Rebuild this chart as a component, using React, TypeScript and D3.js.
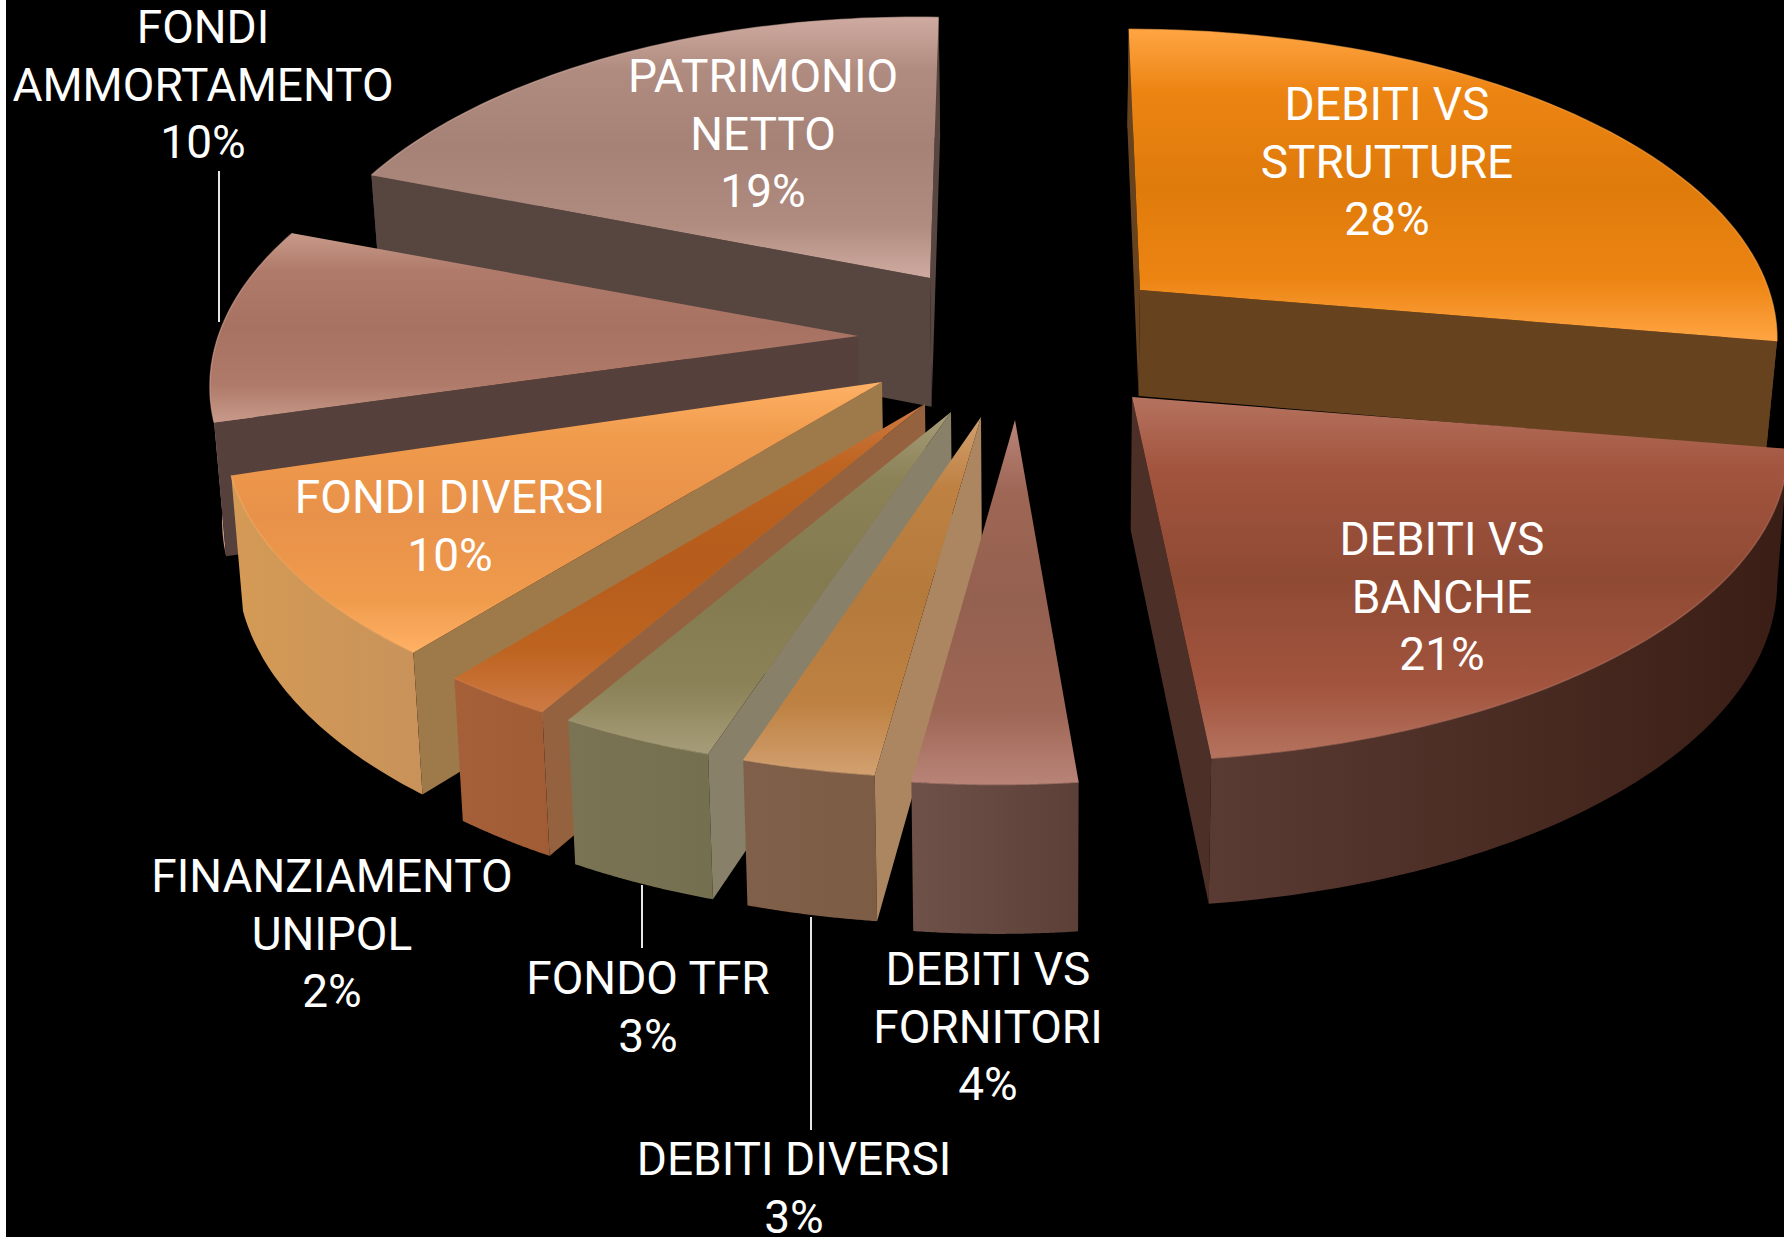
import React from "react";
import * as d3 from "d3";

const categories = ["DEBITI VS STRUTTURE", "DEBITI VS BANCHE", "DEBITI VS FORNITORI", "DEBITI DIVERSI", "FONDO TFR", "FINANZIAMENTO UNIPOL", "FONDI DIVERSI", "FONDI AMMORTAMENTO", "PATRIMONIO NETTO"];
const shares = [28, 21, 4, 3, 3, 2, 10, 10, 19];

// layout of the exploded, warped picture: one apex per slice (screen px), same order as categories
const apexX = [1140, 1132, 1015, 981, 951, 925, 882, 858, 930];
const apexY = [290, 397, 420, 417, 412, 404, 382, 336, 278];
const sliceScaleX = [1, 1.03, 1, 1, 1, 1, 0.98, 0.967, 0.955];
const sliceScaleY = [1, 1.01, 1.01, 1, 1, 1, 1, 1, 1];
const startTrimDeg = [0, 0, 0, -1.7, -2, -1, 1.2, 0, 0];
const endTrimDeg = [0, -1, -1.9, -2.4, -1, 0.4, -1.2, 0, 2.1];
const wallScale = [0.82, 1, 1.02, 1, 1, 1, 1, 1, 1];
// back to front
const paintOrder = [8, 0, 7, 6, 5, 4, 3, 2, 1];

const topLight = ["#FFA543", "#B5735F", "#B98478", "#D2A070", "#A69C78", "#CD7A45", "#FFB165", "#C89A8A", "#CFAAA0"];
const topBase = ["#EC8412", "#A2543E", "#9E6655", "#BE8142", "#8C8258", "#BE6420", "#F09B4C", "#AF7A69", "#B08C80"];
const topDark = ["#DF7B0B", "#8F4A34", "#94604F", "#B47A3C", "#847A50", "#B65C1C", "#E8914A", "#A87262", "#A68276"];
const wallLeft = ["#66421F", "#5A3B33", "#6E5148", "#80604A", "#7A7354", "#A5603A", "#D49A55", "#C49585", "#574640"];
const wallRight = ["#66421F", "#3A1D14", "#5C4038", "#7C5C44", "#74704F", "#A05C34", "#C8925A", "#C49585", "#574640"];
const radialFill = ["#66421F", "#4C3028", "#5C4038", "#AB8660", "#888068", "#95623F", "#9E794A", "#55403C", "#574640"];

const labelLines = [
  ["DEBITI VS", "STRUTTURE", "28%"],
  ["DEBITI VS", "BANCHE", "21%"],
  ["DEBITI VS", "FORNITORI", "4%"],
  ["DEBITI DIVERSI", "3%"],
  ["FONDO TFR", "3%"],
  ["FINANZIAMENTO", "UNIPOL", "2%"],
  ["FONDI DIVERSI", "10%"],
  ["FONDI", "AMMORTAMENTO", "10%"],
  ["PATRIMONIO", "NETTO", "19%"],
];
const labelCx = [1387, 1442, 988, 794, 648, 332, 450, 203, 763];
const labelFirstBaseline = [120, 555, 985, 1175, 994, 892, 513, 43, 92];

const leaderX = [219, 642, 811];
const leaderY1 = [171, 885, 917];
const leaderY2 = [322, 948, 1130];

const W = 1784, H = 1237;
const ROT = (-10 * Math.PI) / 180;
const E = [637, 47];
const S = [-99, 299];
const K = 0.163;
const LINE = 57.7;
const rad = (d: number) => (d * Math.PI) / 180;

type Pt = [number, number];

function project(theta: number, sx: number, sy: number): Pt {
  const u = Math.sin(theta), v = -Math.cos(theta), w = 1 - K * v;
  return [(sx * (E[0] * u + S[0] * v)) / w, (sy * (E[1] * u + S[1] * v)) / w];
}
const drop = (p: Pt, ws: number): Pt => [p[0] + (1040 - p[0]) * 0.0145, p[1] + ws * (119 + 0.035 * p[1])];
const cross = (a: Pt, b: Pt, d: Pt) => (b[0] - a[0]) * (d[1] - a[1]) - (b[1] - a[1]) * (d[0] - a[0]);

const closed = d3.line<Pt>().curve(d3.curveLinearClosed);
const open = d3.line<Pt>();

export default function App() {
  const arcs = d3.pie<number>().sort(null).startAngle(ROT).endAngle(ROT + 2 * Math.PI)(shares);
  const slices = arcs.map((a, i) => {
    const apex: Pt = [apexX[i], apexY[i]];
    const a0 = a.startAngle + rad(startTrimDeg[i]);
    const a1 = a.endAngle + rad(endTrimDeg[i]);
    const rim = d3.range(0, 61).map((k) => {
      const t = a0 + ((a1 - a0) * k) / 60;
      const p = project(t, sliceScaleX[i], sliceScaleY[i]);
      return [apex[0] + p[0], apex[1] + p[1]] as Pt;
    });
    const ws = wallScale[i];
    const rimLow = rim.map((p) => drop(p, ws));
    const apexLow = drop(apex, ws);
    const first = rim[0], last = rim[rim.length - 1];
    const startVisible = cross(apex, first, apexLow) < 0;
    const endVisible = cross(apex, last, apexLow) > 0;
    return { i, apex, rim, rimLow, apexLow, first, last, startVisible, endVisible, ws };
  });

  return (
    <svg
      width={W}
      height={H}
      viewBox={`0 0 ${W} ${H}`}
      style={{ position: "absolute", left: 0, top: 0, display: "block" }}
      fontFamily="Roboto, 'Liberation Sans', sans-serif"
    >
      <defs>
        {slices.map(({ i }) => (
          <React.Fragment key={i}>
            <linearGradient id={`top${i}`} x1="0" y1="0" x2="0" y2="1">
              <stop offset="0" stopColor={topLight[i]} />
              <stop offset="0.2" stopColor={topBase[i]} />
              <stop offset="0.5" stopColor={topDark[i]} />
              <stop offset="0.8" stopColor={topBase[i]} />
              <stop offset="1" stopColor={topLight[i]} />
            </linearGradient>
            <linearGradient id={`wall${i}`} x1="0" y1="0" x2="1" y2="0">
              <stop offset="0" stopColor={wallLeft[i]} />
              <stop offset="1" stopColor={wallRight[i]} />
            </linearGradient>
          </React.Fragment>
        ))}
      </defs>
      <rect width={W} height={H} fill="#000" />
      <rect width={6} height={H} fill="#fff" />
      {paintOrder.map((idx) => {
        const s = slices[idx];
        return (
          <g key={idx}>
            <path d={closed([...s.rim, ...[...s.rimLow].reverse()]) as string} fill={`url(#wall${idx})`} />
            {s.startVisible && (
              <path d={closed([s.apex, s.first, s.rimLow[0], s.apexLow]) as string} fill={radialFill[idx]} />
            )}
            {s.endVisible && (
              <path d={closed([s.apex, s.last, s.rimLow[s.rimLow.length - 1], s.apexLow]) as string} fill={radialFill[idx]} />
            )}
            <path d={closed([s.apex, ...s.rim]) as string} fill={`url(#top${idx})`} />
            <path d={open(s.rim) as string} fill="none" stroke={topLight[idx]} strokeWidth={1.5} strokeOpacity={0.6} />
          </g>
        );
      })}
      {leaderX.map((x, i) => (
        <line key={i} x1={x} x2={x} y1={leaderY1[i]} y2={leaderY2[i]} stroke="#fff" strokeWidth={1.8} />
      ))}
      {labelLines.map((lines, i) => (
        <text key={i} textAnchor="middle" fill="#fff" fontSize={46} fontWeight={400}>
          {lines.map((t, j) => (
            <tspan key={j} x={labelCx[i]} y={labelFirstBaseline[i] + j * LINE}>
              {t}
            </tspan>
          ))}
        </text>
      ))}
      <title>{categories.join(", ")}</title>
    </svg>
  );
}
